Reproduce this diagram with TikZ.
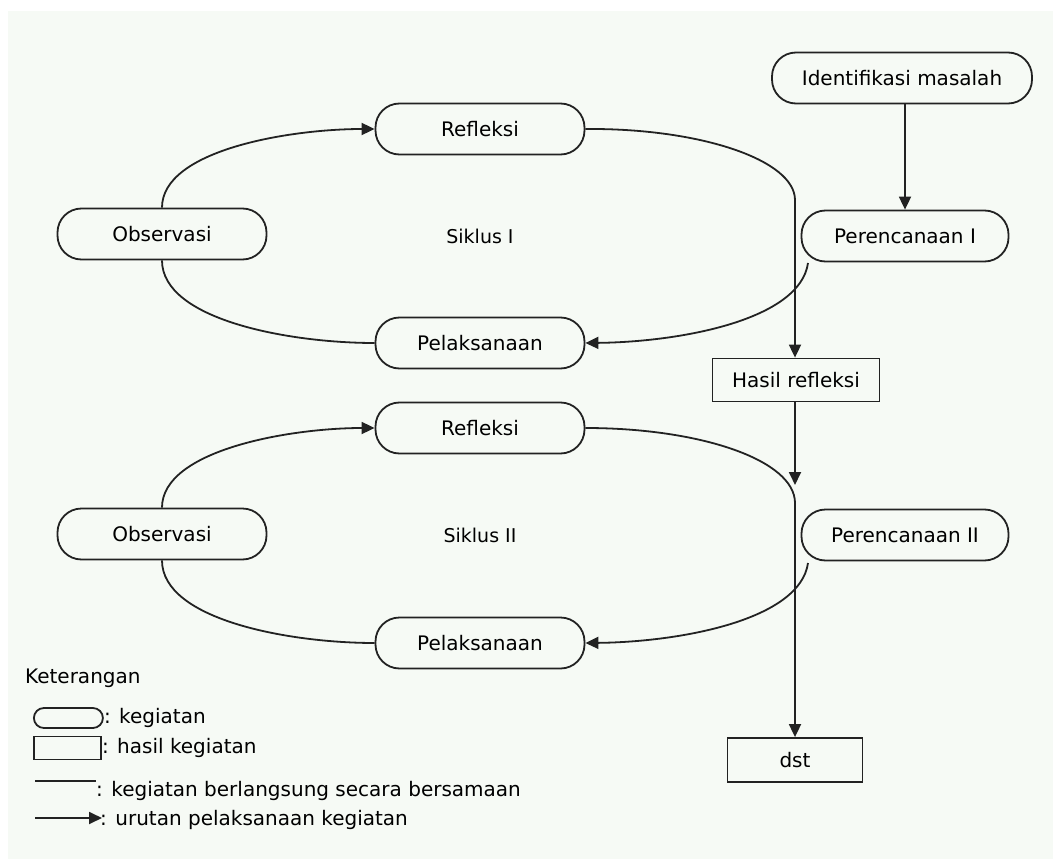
\documentclass[tikz,border=0pt]{standalone}
\usepackage{fontspec}
\setmainfont{DejaVu Sans}
\usetikzlibrary{arrows.meta}
\definecolor{bgc}{HTML}{F6FAF5}
\definecolor{ln}{HTML}{222222}
\tikzset{
  act/.style={draw=ln, line width=1.8pt, rounded corners=24pt, minimum width=209pt, minimum height=51pt, inner sep=0pt, font=\fontsize{20}{24}\selectfont, text=black},
  res/.style={draw=ln, line width=1.8pt, minimum height=43pt, inner sep=0pt, font=\fontsize{20}{24}\selectfont, text=black},
  lbl/.style={font=\fontsize{19}{23}\selectfont, text=black},
  legt/.style={font=\fontsize{20}{24}\selectfont, text=black, anchor=west, inner sep=0pt},
  con/.style={draw=ln, line width=1.8pt},
  arr/.style={con, -{Triangle[length=13pt,width=12pt]}}
}
\begin{document}
\begin{tikzpicture}[x=1pt,y=-1pt]
\useasboundingbox (0,0) rectangle (1053,859);
\fill[white] (0,0) rectangle (1053,859);
\fill[bgc] (8,11) rectangle (1053,859);

% nodes
\node[act, minimum width=260pt] (idm) at (902,78) {Identifikasi masalah};
\node[act] (ref1) at (480,129) {Refleksi};
\node[act] (obs1) at (162,234) {Observasi};
\node[act, minimum width=207pt] (per1) at (905,236) {Perencanaan I};
\node[act] (pel1) at (480,343) {Pelaksanaan};
\node[lbl] (sik1) at (480,236) {Siklus I};
\node[res, minimum width=167pt] (hasil) at (796,380) {Hasil refleksi};
\node[act] (ref2) at (480,428) {Refleksi};
\node[act] (obs2) at (162,534) {Observasi};
\node[act, minimum width=207pt] (per2) at (905,535) {Perencanaan II};
\node[act] (pel2) at (480,643) {Pelaksanaan};
\node[lbl] (sik2) at (480,535) {Siklus II};
\node[res, minimum width=135pt, minimum height=44pt] (dst) at (795,760) {dst};

% coordinates
\coordinate (c1) at (795,200);
\coordinate (p1s) at (808,263);
\coordinate (h2) at (795,485);
\coordinate (c2) at (795,503);
\coordinate (p2s) at (808,563);

% connectors cycle I
\draw[arr] (idm.south -| per1.north) -- (per1.north);
\draw[arr] (ref1.east) .. controls (700,128) and (795,160) .. (c1) -- (hasil.north -| c1);
\draw[arr] (p1s) .. controls (800,320) and (680,342) .. (pel1.east);
\draw[arr] (obs1.north) .. controls (162,150) and (290,129) .. (ref1.west);
\draw[con] (obs1.south) .. controls (162,320) and (290,343) .. (pel1.west);

% connectors cycle II
\draw[arr] (hasil.south -| h2) -- (h2);
\draw[con] (ref2.east) .. controls (700,428) and (795,460) .. (c2);
\draw[arr] (c2) -- (dst.north -| c2);
\draw[arr] (p2s) .. controls (800,620) and (680,642) .. (pel2.east);
\draw[arr] (obs2.north) .. controls (162,450) and (290,428) .. (ref2.west);
\draw[con] (obs2.south) .. controls (162,620) and (290,643) .. (pel2.west);

% legend
\node[legt] (ket) at (25,678) {Keterangan};
\node[draw=ln, line width=1.8pt, rounded corners=10pt, minimum width=69pt, minimum height=20pt, inner sep=0pt, anchor=west] (lg1) at (33,718) {};
\node[legt] (lt1) at (lg1.east) {: kegiatan};
\node[draw=ln, line width=1.8pt, minimum width=67pt, minimum height=23pt, inner sep=0pt, anchor=west] (lg2) at (33,748) {};
\node[legt] (lt2) at (lg2.east) {: hasil kegiatan};
\coordinate (l3a) at (35,781);
\coordinate (l3b) at (96,781);
\draw[con] (l3a) -- (l3b);
\node[legt] (lt3) at (96,791) {: kegiatan berlangsung secara bersamaan};
\coordinate (l4a) at (35,818);
\coordinate (l4b) at (102,818);
\draw[arr] (l4a) -- (l4b);
\node[legt] (lt4) at (100,820) {: urutan pelaksanaan kegiatan};
\end{tikzpicture}
\end{document}
